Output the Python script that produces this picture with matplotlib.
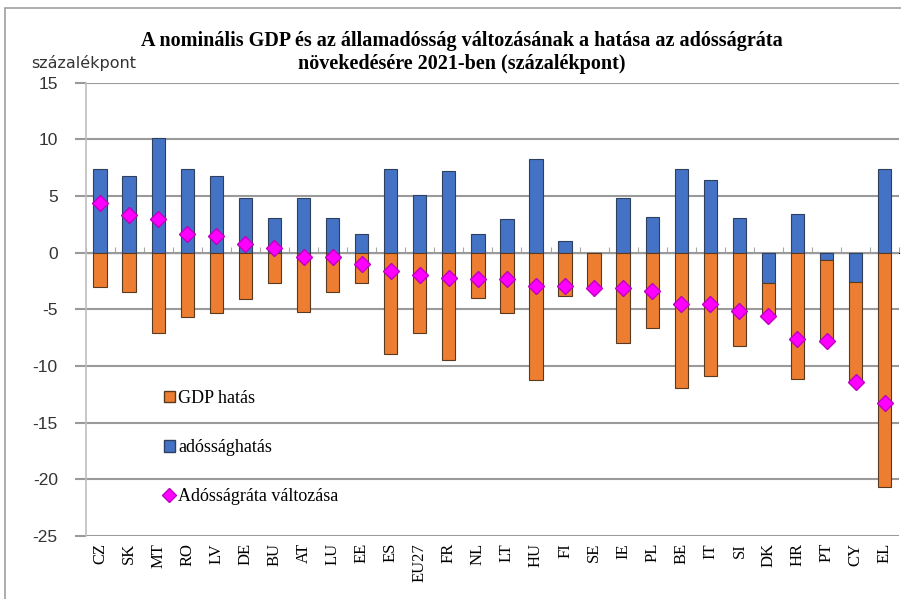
import matplotlib
matplotlib.use("Agg")
import matplotlib.pyplot as plt
import numpy as np
from matplotlib.patches import Patch, Rectangle
from matplotlib.lines import Line2D

countries = ['CZ', 'SK', 'MT', 'RO', 'LV', 'DE', 'BU', 'AT', 'LU', 'EE', 'ES', 'EU27', 'FR', 'NL',
             'LT', 'HU', 'FI', 'SE', 'IE', 'PL', 'BE', 'IT', 'SI', 'DK', 'HR', 'PT', 'CY', 'EL']
debt_effect = [7.4, 6.8, 10.1, 7.4, 6.75, 4.8, 3.1, 4.8, 3.1, 1.65, 7.4, 5.05, 7.2, 1.65,
               3.0, 8.3, 1.0, 0.0, 4.85, 3.15, 7.4, 6.4, 3.05, -2.7, 3.45, -0.65, -2.6, 7.4]
gdp_effect = [-3.0, -3.5, -7.1, -5.7, -5.3, -4.05, -2.7, -5.2, -3.5, -2.7, -8.9, -7.1, -9.45, -4.0,
              -5.3, -11.2, -3.8, -3.1, -8.0, -6.6, -11.9, -10.9, -8.2, -2.9, -11.1, -7.1, -8.8, -20.7]
ratio_change = [4.35, 3.3, 3.0, 1.65, 1.5, 0.8, 0.4, -0.4, -0.4, -1.0, -1.6, -2.0, -2.2, -2.35,
                -2.35, -2.9, -2.9, -3.1, -3.1, -3.4, -4.5, -4.5, -5.15, -5.6, -7.65, -7.75, -11.4, -13.3]

orange = '#ED7D31'
blue = '#4472C4'
magenta = '#FF00FF'

plt.rcParams['font.family'] = ['Liberation Serif', 'DejaVu Serif']
plt.rcParams['axes.unicode_minus'] = False

fig = plt.figure(figsize=(9.01, 5.99), dpi=100)
ax = fig.add_axes([0.095, 0.105, 0.903, 0.757])

x = np.arange(len(countries))
debt = np.array(debt_effect)
gdp = np.array(gdp_effect)
gdp_base = np.where(debt < 0, debt, 0)

w = 0.46
ax.bar(x, debt, w, color=blue, edgecolor='#2f3f5f', linewidth=0.8, zorder=3)
ax.bar(x, gdp, w, bottom=gdp_base, color=orange, edgecolor='#5a3a1f', linewidth=0.8, zorder=3)
ax.plot(x, ratio_change, 'D', color=magenta, markeredgecolor='#c000c0', markersize=8, zorder=4)

ax.set_ylim(-25, 15)
ax.set_xlim(-0.5, len(countries) - 0.5)
ax.set_yticks(np.arange(-25, 16, 5))
ax.yaxis.grid(True, color='#9a9a9a', linewidth=1.5, zorder=0)
ax.set_axisbelow(True)
for s in ['top', 'right', 'bottom']:
    ax.spines[s].set_visible(False)
ax.spines['left'].set_color('#bfbfbf')
ax.spines['left'].set_linewidth(1.2)
ax.tick_params(axis='y', length=8, width=1.5, color='#9a9a9a', labelsize=12.5, pad=12)
for lab in ax.get_yticklabels():
    lab.set_fontfamily('Liberation Sans')
    lab.set_color('#333333')

ax.set_xticks(x)
ax.set_xticklabels(countries, rotation=90, fontsize=12)
ax.tick_params(axis='x', length=0, pad=5)

# category axis drawn at zero with small tick marks between groups
sec = ax.secondary_xaxis(25 / 40)
sec.set_xticks(np.arange(len(countries) + 1) - 0.5)
sec.tick_params(axis='x', direction='out', length=4, color='#a6a6a6', labelbottom=False, labeltop=False)
sec.spines['bottom'].set_color('#a6a6a6')

handles = [Patch(facecolor=orange, edgecolor='#5a3a1f'),
           Patch(facecolor=blue, edgecolor='#2f3f5f'),
           Line2D([], [], marker='D', linestyle='none', color=magenta,
                  markeredgecolor='#c000c0', markersize=7)]
labels = ['GDP hatás', 'adósságHatás'.replace('H', 'h'), 'Adósságráta változása']
ax.legend(handles, labels, loc='upper left', bbox_to_anchor=(0.085, 0.342), frameon=False,
          fontsize=13, labelspacing=1.78, handlelength=0.6, handleheight=0.6,
          handletextpad=0.2, borderpad=0)

fig.text(0.513, 0.932, 'A nominális GDP és az államadósság változásának a hatása az adósságráta',
         ha='center', va='center', fontsize=14.5, fontweight='bold')
fig.text(0.513, 0.893, 'növekedésére 2021-ben (százalékpont)',
         ha='center', va='center', fontsize=14.5, fontweight='bold')
fig.text(0.035, 0.895, 'százalékpont', ha='left', va='center', fontsize=11.5,
         family='Liberation Sans Narrow', color='#333333')

fig.patches.append(Rectangle((0.006, -0.1), 1.1, 1.087, transform=fig.transFigure,
                             fill=False, edgecolor='#a0a0a0', linewidth=1.2))

fig.savefig('out.png', dpi=100)
